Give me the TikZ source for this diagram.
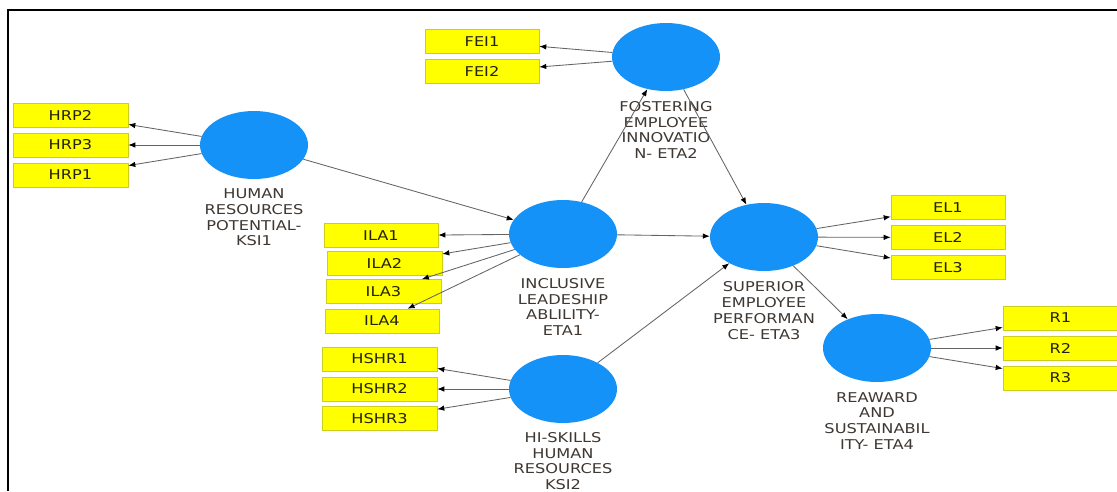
\documentclass[tikz,border=0pt]{standalone}
\usepackage{fontspec}
\setmainfont[FakeStretch=1.2]{DejaVu Sans}
\usetikzlibrary{shapes.geometric,arrows.meta,positioning}
\definecolor{lvblue}{RGB}{21,146,248}
\definecolor{boxfill}{RGB}{255,255,0}
\definecolor{boxline}{RGB}{205,205,30}
\definecolor{boxtext}{RGB}{35,35,5}
\definecolor{labtext}{RGB}{62,55,50}
\definecolor{linkc}{RGB}{100,100,100}
\begin{document}
\begin{tikzpicture}[x=1pt,y=-1pt,
 latent/.style={ellipse,fill=lvblue,minimum width=108pt,minimum height=68pt,inner sep=0pt},
 ind/.style={rectangle,fill=boxfill,draw=boxline,line width=0.6pt,minimum width=115pt,minimum height=24pt,inner sep=0pt,text=boxtext,font=\fontsize{13.5}{15.7}\selectfont},
 lab/.style={align=center,inner sep=0pt,text=labtext,font=\fontsize{13.5}{15.7}\selectfont},
 link/.style={draw=linkc,line width=0.85pt,-{Latex[length=7pt,width=5.5pt,color=black]}}]
\useasboundingbox (0,0) rectangle (1117,491);
\fill[white] (0,0) rectangle (1117,491);
\draw[line width=2pt] (8,491) -- (8,10) -- (1117,10);

% latent variables
\node[latent] (hrp)  at (254,145) {};
\node[latent] (fei)  at (666,57)  {};
\node[latent] (ila)  at (563,234) {};
\node[latent] (hshr) at (563,389) {};
\node[latent] (sep)  at (764,237) {};
\node[latent] (rs)   at (877,348) {};

% labels
\node[lab,below=9.5pt of hrp]  (hrpL)  {HUMAN\\RESOURCES\\POTENTIAL-\\KSI1};
\node[lab,below=10pt of fei]   (feiL)  {FOSTERING\\EMPLOYEE\\INNOVATIO\\N- ETA2};
\node[lab,below=10pt of ila]   (ilaL)  {INCLUSIVE\\LEADESHIP\\ABLILITY-\\ETA1};
\node[lab,below=9.5pt of hshr,font=\fontsize{13.5}{15.5}\selectfont](hshrL) {HI-SKILLS\\HUMAN\\RESOURCES\\KSI2};
\node[lab,below=10.5pt of sep] (sepL)  {SUPERIOR\\EMPLOYEE\\PERFORMAN\\CE- ETA3};
\node[lab,below=10pt of rs]    (rsL)   {REAWARD\\AND\\SUSTAINABIL\\ITY- ETA4};

% indicators
\node[ind] (hrp2) at (70.5,115) {HRP2};
\node[ind] (hrp3) at (70.5,145) {HRP3};
\node[ind] (hrp1) at (70.5,175) {HRP1};
\node[ind,minimum width=114pt] (fei1) at (482,41.5) {FEI1};
\node[ind,minimum width=114pt] (fei2) at (482,71.5) {FEI2};
\node[ind,minimum width=114pt] (ila1) at (381,235.5) {ILA1};
\node[ind] (ila2) at (384.5,263.5) {ILA2};
\node[ind] (ila3) at (383.5,291.5) {ILA3};
\node[ind,minimum width=114pt] (ila4) at (382,321) {ILA4};
\node[ind] (hshr1) at (379.5,359) {HSHR1};
\node[ind] (hshr2) at (379.5,389) {HSHR2};
\node[ind] (hshr3) at (379.5,418.5) {HSHR3};
\node[ind,minimum width=114pt] (el1) at (948,207.5) {EL1};
\node[ind,minimum width=114pt] (el2) at (948,237.5) {EL2};
\node[ind,minimum width=114pt] (el3) at (948,267.5) {EL3};
\node[ind] (r1) at (1060.5,318) {R1};
\node[ind] (r2) at (1060.5,348) {R2};
\node[ind] (r3) at (1060.5,378) {R3};

% outer model
\foreach \t in {hrp2,hrp3,hrp1} \draw[link] (hrp) -- (\t);
\foreach \t in {fei1,fei2} \draw[link] (fei) -- (\t);
\foreach \t in {ila1,ila2,ila3,ila4} \draw[link] (ila) -- (\t);
\foreach \t in {hshr1,hshr2,hshr3} \draw[link] (hshr) -- (\t);
\foreach \t in {el1,el2,el3} \draw[link] (sep) -- (\t);
\foreach \t in {r1,r2,r3} \draw[link] (rs) -- (\t);

% inner model
\draw[link] (hrp) -- (ila);
\draw[link] (ila) -- (fei);
\draw[link] (fei) -- (sep);
\draw[link] (ila) -- (sep);
\draw[link] (hshr) -- (sep);
\draw[link] (sep) -- (rs);
\end{tikzpicture}
\end{document}
